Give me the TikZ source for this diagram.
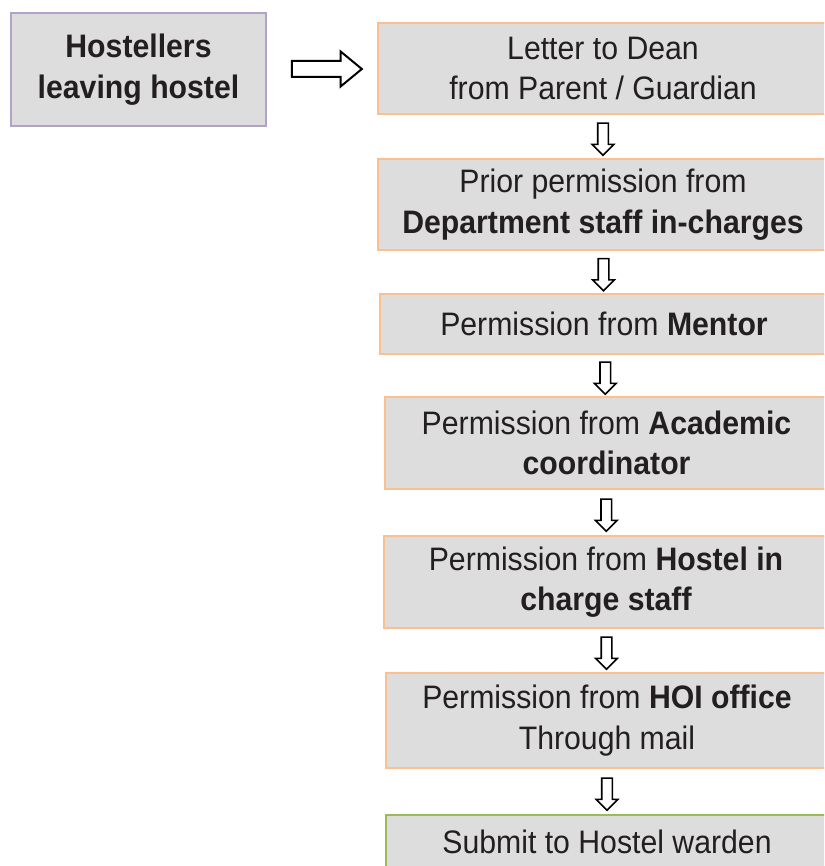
\documentclass[tikz,border=0pt]{standalone}
\usepackage{fontspec}
\setmainfont{Liberation Sans}[FakeStretch=0.93]
\usetikzlibrary{shapes.arrows,calc}
\definecolor{boxfill}{HTML}{DDDDDD}
\definecolor{peach}{HTML}{FAC090}
\definecolor{lilac}{HTML}{B3A2C7}
\definecolor{leaf}{HTML}{9BBB59}
\definecolor{ink}{HTML}{231F20}
\begin{document}
\begin{tikzpicture}[x=1pt,y=-1pt,
  box/.style={draw=peach, line width=2pt, fill=boxfill, text=ink, align=center,
    anchor=north west, inner sep=0pt, font=\fontsize{32.5}{40.5}\selectfont},
  downarrow/.style={single arrow, draw=black, fill=white, line width=1.6pt,
    minimum height=32pt, single arrow head extend=5.5pt,
    single arrow tip angle=90, rotate=-90, inner xsep=0pt, inner ysep=4.5pt},
  rightarrow/.style={single arrow, draw=black, fill=white, line width=2pt,
    minimum height=70pt, single arrow head extend=9.5pt,
    single arrow tip angle=79, inner xsep=0pt, inner ysep=7pt}
]
\useasboundingbox (0,0) rectangle (824,866);
\clip (0,0) rectangle (824,866);

\node[box, draw=lilac, minimum width=255pt, minimum height=113pt] (h) at (10,12)
  {\textbf{Hostellers}\\\textbf{leaving hostel}};

\node[box, minimum width=450pt, minimum height=91pt] (b1) at (377,22)
  {Letter to Dean\\from Parent / Guardian};
\node[box, minimum width=450pt, minimum height=91pt] (b2) at (377,158)
  {Prior permission from\\\textbf{Department staff in-charges}};
\node[box, minimum width=448pt, minimum height=60pt] (b3) at (379,293)
  {Permission from \textbf{Mentor}};
\node[box, minimum width=443pt, minimum height=92pt] (b4) at (384,396)
  {Permission from \textbf{Academic}\\\textbf{coordinator}};
\node[box, minimum width=444pt, minimum height=92pt] (b5) at (383,535)
  {Permission from \textbf{Hostel in}\\\textbf{charge staff}};
\node[box, minimum width=442pt, minimum height=95pt] (b6) at (385,672)
  {Permission from \textbf{HOI office}\\Through mail};
\node[box, draw=leaf, minimum width=442pt, minimum height=86pt, text depth=32pt] (b7) at (385,814)
  {Submit to Hostel warden};

\path (h.east) -- (b1.west) node[midway, rightarrow] (ar) {};
\path (b1.south) -- (b2.north) node[midway, downarrow] (a1) {};
\path (b2.south) -- (b3.north) node[midway, downarrow] (a2) {};
\path (b3.south) -- (b4.north) node[midway, downarrow] (a3) {};
\path (b4.south) -- (b5.north) node[midway, downarrow] (a4) {};
\path (b5.south) -- (b6.north) node[midway, downarrow] (a5) {};
\path (b6.south) -- (b7.north) node[midway, downarrow] (a6) {};
\end{tikzpicture}
\end{document}
